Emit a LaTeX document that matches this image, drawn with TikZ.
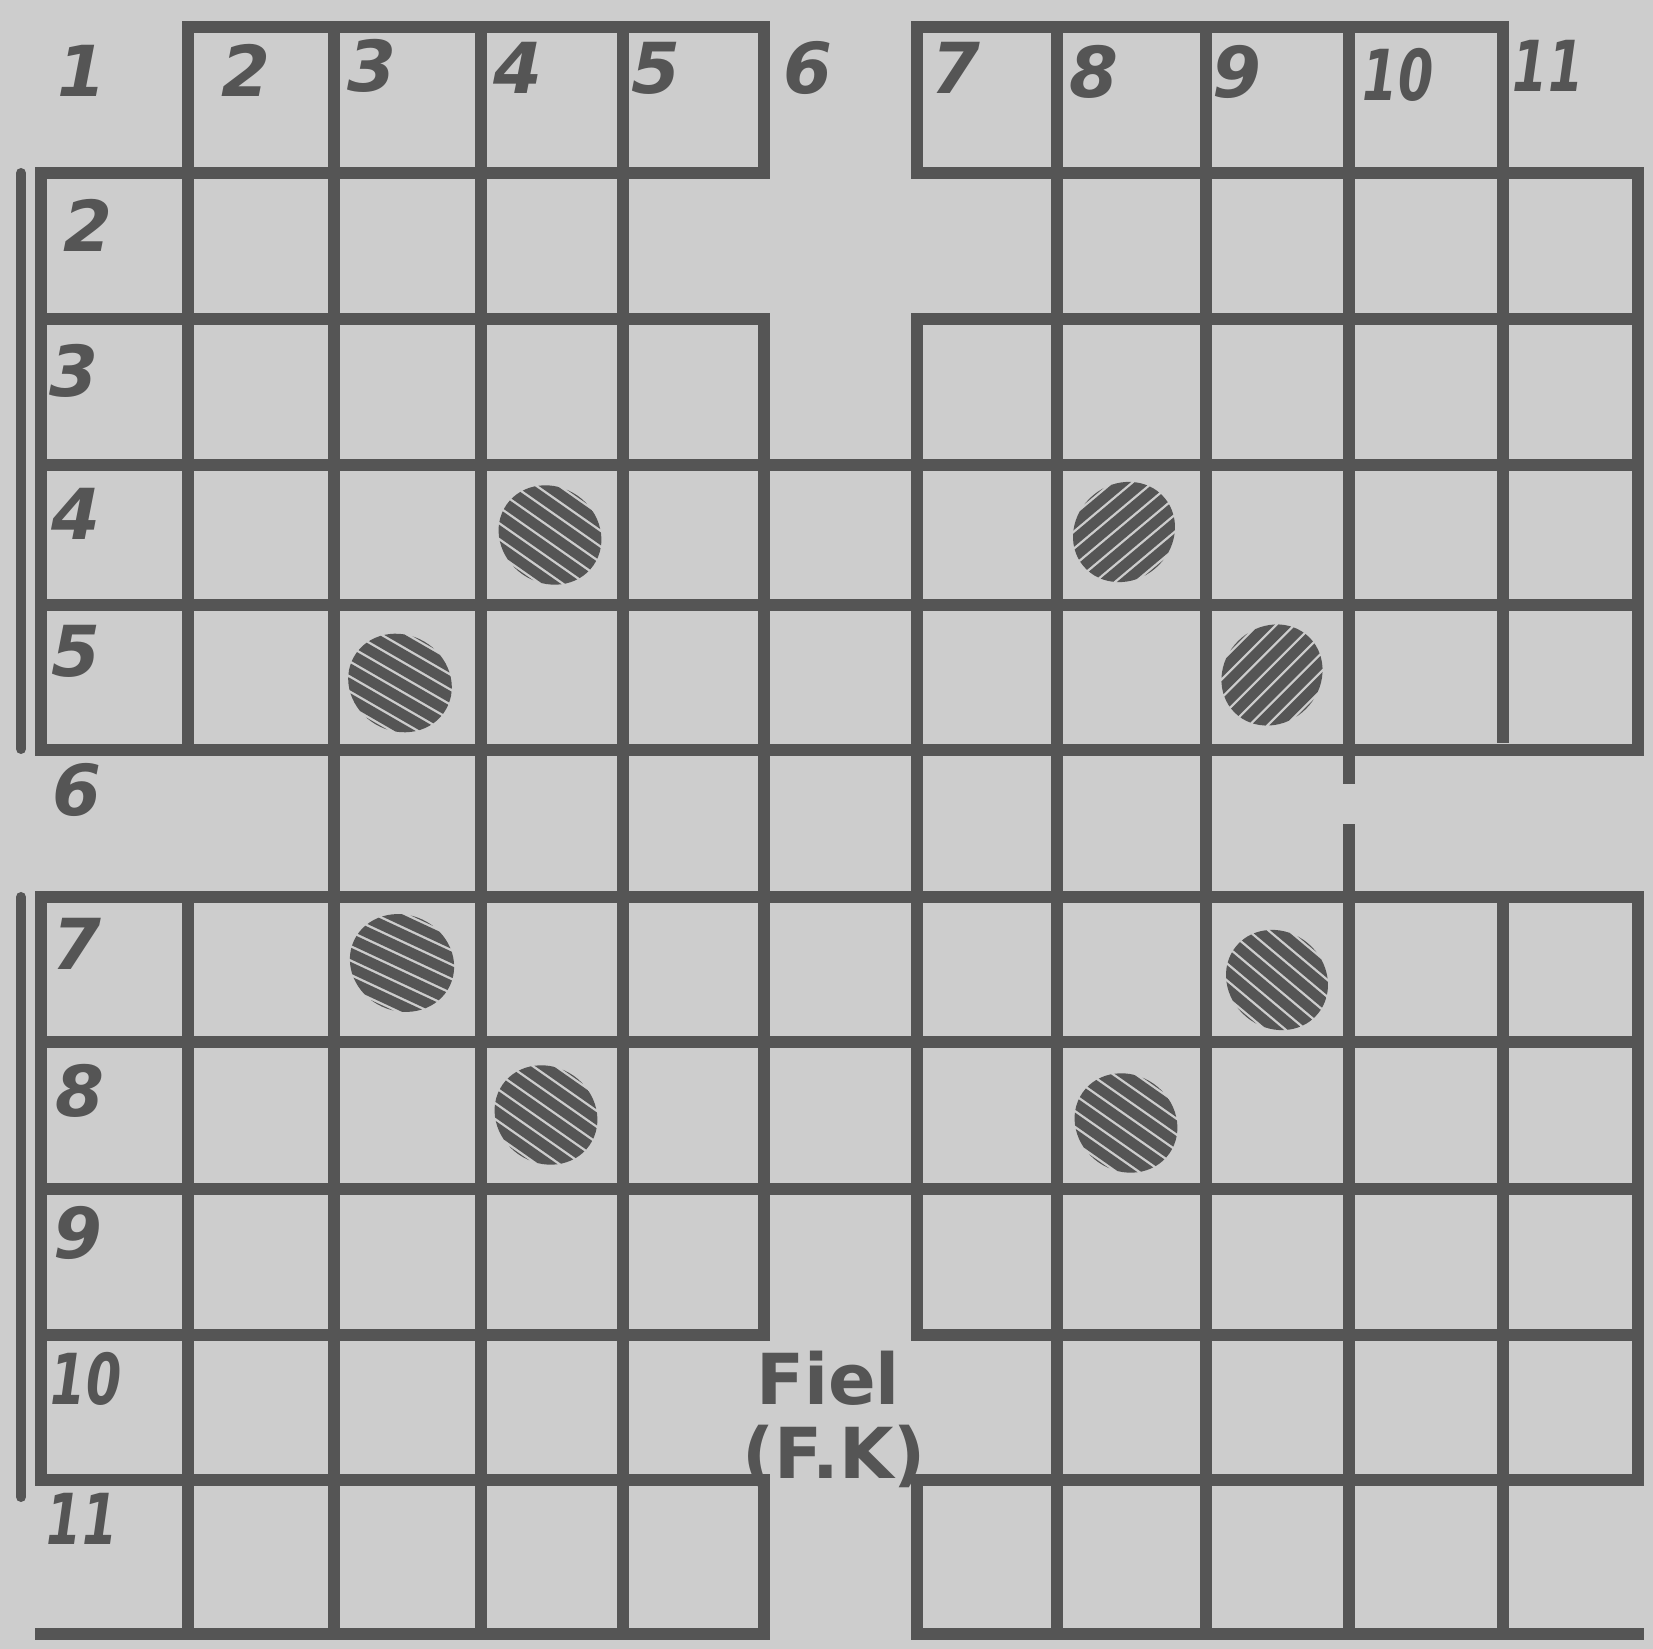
\documentclass[tikz,border=0pt]{standalone}
\usepackage{fontspec}
\newfontfamily\hand{DejaVu Sans}
\definecolor{paper}{RGB}{205,205,205}
\definecolor{ink}{RGB}{85,85,85}
\newcommand\hatchblob[3]{%
  \begin{scope}[shift={(#1,#2)},rotate=#3]
    \clip (0,0) ellipse (53 and 48);
    \foreach \k in {-52,-39,...,52} \draw[ink,line width=0.105cm] (-60,\k) -- (60,\k);
  \end{scope}}
\newcommand\narrow[1]{\scalebox{0.72}[1]{#1}}
\begin{document}
\begin{tikzpicture}[x=0.01cm,y=-0.01cm,
  grid/.style={draw=ink,line width=0.125cm,line cap=rect},
  gridbutt/.style={draw=ink,line width=0.125cm,line cap=butt},
  bar/.style={draw=ink,line width=0.1cm,line cap=round},
  lab/.style={text=ink,font=\hand\bfseries\itshape\fontsize{20}{22}\selectfont,inner sep=0pt},
  fiel/.style={text=ink,font=\hand\bfseries\fontsize{20}{22}\selectfont,inner sep=0pt}]
\useasboundingbox (0,0) rectangle (1653,1649);
\fill[paper] (0,0) rectangle (1653,1649);
\def\xs{{41,188,334,481,623,764,917,1057,1206,1349,1503,1638}}
\def\ys{{27,173,319,465,605,750,897,1042,1189,1335,1480,1634}}
\foreach \i in {0,...,11}{\foreach \j in {0,...,11}{%
  \pgfmathsetmacro\px{\xs[\i]}\pgfmathsetmacro\py{\ys[\j]}%
  \coordinate (p\i-\j) at (\px,\py);}}
% horizontal lines
\draw[grid] (p1-0) -- (p5-0);  \draw[grid] (p6-0) -- (p10-0);
\draw[grid] (p0-1) -- (p5-1);  \draw[grid] (p6-1) -- (p11-1);
\draw[grid] (p0-2) -- (p5-2);  \draw[grid] (p6-2) -- (p11-2);
\foreach \j in {3,...,8} \draw[grid] (p0-\j) -- (p11-\j);
\draw[grid] (p0-9) -- (p5-9);  \draw[grid] (p6-9) -- (p11-9);
\draw[grid] (p0-10) -- (p5-10);  \draw[grid] (p6-10) -- (p11-10);
\draw[grid] (p0-11) -- (p5-11);  \draw[grid] (p6-11) -- (p11-11);
% vertical lines
\draw[grid] (p0-1) -- (p0-5);  \draw[grid] (p0-6) -- (p0-10);
\draw[grid] (p1-0) -- (p1-5);  \draw[grid] (p1-6) -- (p1-11);
\foreach \i in {2,3,4,7,8} \draw[grid] (p\i-0) -- (p\i-11);
\draw[grid] (p5-0) -- (p5-1); \draw[grid] (p5-2) -- (p5-9); \draw[grid] (p5-10) -- (p5-11);
\draw[grid] (p6-0) -- (p6-1); \draw[grid] (p6-2) -- (p6-9); \draw[grid] (p6-10) -- (p6-11);
\coordinate (gapA) at (1349,784);
\coordinate (gapB) at (1349,824);
\draw[grid] (p9-0) -- ([yshift=0.06cm]gapA);
\draw[grid] ([yshift=-0.06cm]gapB) -- (p9-11);
\coordinate (vtenend) at (1503,743);
\draw[gridbutt] ([yshift=0.06cm]p10-0) -- (vtenend);
\draw[grid] (p10-6) -- (p10-11);
\draw[grid] (p11-1) -- (p11-5);  \draw[grid] (p11-6) -- (p11-10);
% left bars
\coordinate (barA1) at (21,173); \coordinate (barA2) at (21,749);
\coordinate (barB1) at (21,897); \coordinate (barB2) at (21,1497);
\draw[bar] (barA1) -- (barA2);
\draw[bar] (barB1) -- (barB2);
% pieces
\hatchblob{550}{535}{-35}
\hatchblob{400}{683}{-30}
\hatchblob{1124}{532}{40}
\hatchblob{1272}{675}{45}
\hatchblob{402}{963}{-25}
\hatchblob{546}{1115}{-35}
\hatchblob{1277}{980}{-40}
\hatchblob{1126}{1123}{-35}
% column labels
\node[lab] (c1) at (82,71) {1};
\node[lab] (c2) at (246,70) {2};
\node[lab] (c3) at (372,66) {3};
\node[lab] (c4) at (518,68) {4};
\node[lab] (c5) at (656,68) {5};
\node[lab] (c6) at (808,68) {6};
\node[lab] (c7) at (956,68) {7};
\node[lab] (c8) at (1094,72) {8};
\node[lab] (c9) at (1237,72) {9};
\node[lab] (c10) at (1398,75) {\narrow{10}};
\node[lab] (c11) at (1548,66) {\narrow{11}};
% row labels
\node[lab] (r2) at (88,225) {2};
\node[lab] (r3) at (74,371) {3};
\node[lab] (r4) at (76,514) {4};
\node[lab] (r5) at (76,651) {5};
\node[lab] (r6) at (77,790) {6};
\node[lab] (r7) at (77,944) {7};
\node[lab] (r8) at (80,1091) {8};
\node[lab] (r9) at (78,1233) {9};
\node[lab] (r10) at (86,1379) {\narrow{10}};
\node[lab] (r11) at (82,1519) {\narrow{11}};
% field label
\node[fiel] (fiel) at (828,1378) {Fiel};
\node[fiel] (fk) at (834,1456) {(F.K)};
\end{tikzpicture}
\end{document}
